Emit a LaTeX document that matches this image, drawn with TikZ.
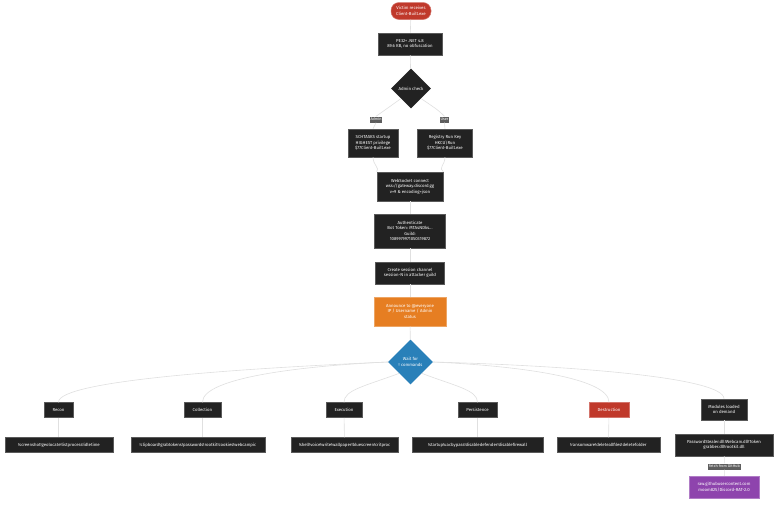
\documentclass[tikz,border=0pt]{standalone}
\usepackage{fontspec}
\setmainfont{Fira Sans}
\usetikzlibrary{shapes.geometric}
\definecolor{darkbox}{HTML}{222222}
\definecolor{darkline}{HTML}{5A5A5A}
\definecolor{redbox}{HTML}{C0392B}
\definecolor{orangebox}{HTML}{E67E22}
\definecolor{bluebox}{HTML}{2980B9}
\definecolor{purplebox}{HTML}{8E44AD}
\definecolor{edgegray}{HTML}{E0E0E0}
\definecolor{lblgray}{HTML}{5E5E5E}
\tikzset{
  base/.style={font=\fontsize{4.3}{5.4}\selectfont, text=white, align=center, inner sep=1pt, line width=0.5pt},
  darkbox/.style={base, rectangle, fill=darkbox, draw=darkline},
  redbox/.style={base, rectangle, fill=redbox, draw=redbox!70!white},
  orangebox/.style={base, rectangle, fill=orangebox, draw=orangebox!70!white},
  purplebox/.style={base, rectangle, fill=purplebox, draw=purplebox!70!white},
  stadium/.style={base, rectangle, rounded corners=8pt, fill=redbox, draw=redbox!70!white},
  dia/.style={base, diamond, aspect=1, inner sep=0pt},
  lbl/.style={font=\fontsize{3.8}{4.2}\selectfont, text=white, fill=lblgray, inner sep=0.9pt, minimum height=6pt},
  edge/.style={draw=edgegray, line width=0.6pt},
}
\begin{document}
\begin{tikzpicture}[x=1pt, y=-1pt]
\useasboundingbox[fill=white] (0,0) rectangle (784,506);

\node[stadium, minimum width=40pt, minimum height=17pt] (victim) at (411,11) {Victim receives\\Client-Built.exe};
\node[darkbox, minimum width=64pt, minimum height=22pt] (pe) at (410,44) {PE32+ .NET 4.8\\89.6 KB, no obfuscation};
\node[dia, fill=darkbox, minimum width=40pt, minimum height=40pt] (admin) at (411,88.5) {Admin check};
\node[lbl] (lA) at (376,119.5) {Admin};
\node[lbl] (lU) at (444.5,119.5) {User};
\node[darkbox, minimum width=50pt, minimum height=28pt] (sch) at (373,143) {SCHTASKS startup\\HIGHEST privilege\\\$77Client-Built.exe};
\node[darkbox, minimum width=55pt, minimum height=28pt] (reg) at (445,143) {Registry Run Key\\HKCU\textbackslash Run\\\$77Client-Built.exe};
\node[darkbox, minimum width=66pt, minimum height=29pt] (ws) at (410,186.5) {WebSocket connect\\wss://gateway.discord.gg\\v=9 \& encoding=json};
\node[darkbox, minimum width=71pt, minimum height=34pt] (auth) at (410,231) {Authenticate\\Bot Token: MTA4NDk4...\\Guild:\\1089979971050319872};
\node[darkbox, minimum width=69pt, minimum height=22pt] (sess) at (410,273) {Create session channel\\session-N in attacker guild};
\node[orangebox, minimum width=72pt, minimum height=29pt] (ann) at (410,311.5) {Announce to @everyone\\IP / Username / Admin\\status};
\node[dia, fill=bluebox, minimum width=45pt, minimum height=45pt] (wait) at (410.5,362) {Wait for\\! commands};

\node[darkbox, minimum width=29pt, minimum height=15pt] (recon) at (58.5,410) {Recon};
\node[darkbox, minimum width=37pt, minimum height=15pt] (coll) at (202.5,410) {Collection};
\node[darkbox, minimum width=36pt, minimum height=15pt] (exec) at (344,410) {Execution};
\node[darkbox, minimum width=39pt, minimum height=15pt] (pers) at (477.5,410) {Persistence};
\node[redbox, minimum width=40pt, minimum height=15pt] (dest) at (609,410) {Destruction};
\node[darkbox, minimum width=46pt, minimum height=21pt] (mods) at (724,409.5) {Modules loaded\\on demand};

\node[darkbox, minimum width=108pt, minimum height=15pt] (reconc) at (59,445) {!screenshot!geolocate!listprocess!idletime};
\node[darkbox, minimum width=134pt, minimum height=15pt] (collc) at (198,445) {!clipboard!grabtokens!passwords!rootkit!cookies!webcampic};
\node[darkbox, minimum width=107pt, minimum height=15pt] (execc) at (344.5,445) {!shell!voice!write!wallpaper!bluescreen!critproc};
\node[darkbox, minimum width=131pt, minimum height=15pt] (persc) at (477.5,445) {!startup!uacbypass!disabledefender!disablefirewall};
\node[darkbox, minimum width=103pt, minimum height=15pt] (destc) at (608.5,445) {!ransomware!deleteallfiles!deletefolder};
\node[darkbox, minimum width=98pt, minimum height=22pt] (modsc) at (724,445) {PasswordStealer.dll!Webcam.dll!Token\\grabber.dll!rootkit.dll};
\node[lbl] (lF) at (724.5,466.5) {fetch from GitHub};
\node[purplebox, minimum width=70pt, minimum height=22pt] (gh) at (724,487) {raw.githubusercontent.com\\moom825/Discord-RAT-2.0};

\path[edge] (victim) -- (pe);
\path[edge] (pe) -- (admin);
\path[edge] (admin.south west) .. controls (385,110) .. (lA.north);
\path[edge] (lA.south) .. controls (374,125) .. (sch.north);
\path[edge] (admin.south east) .. controls (438,110) .. (lU.north);
\path[edge] (lU.south) .. controls (445,125) .. (reg.north);
\path[edge] (sch.south) .. controls (373,165) and (380,168) .. (ws.north west);
\path[edge] (reg.south) .. controls (445,165) and (438,168) .. (ws.north east);
\path[edge] (ws) -- (auth);
\path[edge] (auth) -- (sess);
\path[edge] (sess) -- (ann);
\path[edge] (ann) -- (wait);

\path[edge] (wait.west) .. controls (250,368) and (58,380) .. (recon.north);
\path[edge] (wait.west) .. controls (300,366) and (202,378) .. (coll.north);
\path[edge] (wait.south west) .. controls (365,386) and (344,390) .. (exec.north);
\path[edge] (wait.south east) .. controls (455,386) and (477.5,390) .. (pers.north);
\path[edge] (wait.east) .. controls (520,366) and (609,378) .. (dest.north);
\path[edge] (wait.east) .. controls (580,366) and (724,378) .. (mods.north);

\path[edge] (recon) -- (recon |- reconc.north);
\path[edge] (coll) -- (coll |- collc.north);
\path[edge] (exec) -- (execc);
\path[edge] (pers) -- (persc);
\path[edge] (dest) -- (destc);
\path[edge] (mods) -- (modsc);
\path[edge] (modsc) -- (lF);
\path[edge] (lF) -- (gh);
\end{tikzpicture}
\end{document}
